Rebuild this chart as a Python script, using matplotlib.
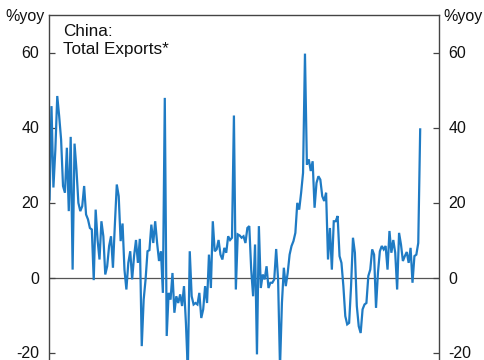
import matplotlib
matplotlib.use("Agg")
import matplotlib.pyplot as plt
import numpy as np

plt.rcParams['font.family'] = ['Liberation Sans', 'DejaVu Sans']

# Monthly % yoy values
seg1 = [20.8, 45.7, 24, 34, 48.4, 43, 36.8, 24.4, 22.6, 34.6, 17.7, 37.5, 2.1, 35.7, 28.8,
        19.9, 17.7, 19, 24.4, 16.8, 15.5, 13.2, 12.8, -0.7, 18.1, 10, 4.8, 15, 11, 0.8, 3,
        8.4, 11, 2.6, 14.1, 24.8, 21.7, 9.7, 14.4, 2.1, -3.2, 3.9, 7, -0.5, 5.7, 10, 3.9]
seg2 = [10.3, -18.3, -5.9, -0.5, 7, 7.3, 14.1, 9.2, 15, 9.2, 4.4, 7, -4.1, 47.9, -15.6,
        -4.1, -5.9, 1.2, -9.4, -5, -6.8, -4.5, -7.6, -2.3, -12.1, -25, 7, -5, -7.2, -6.8,
        -7.2, -4.1, -10.8, -8.5, -2.3, -6.8, 6.1, -2.8, 15, 7, 7.5, 10, 6.1, 4.8, 7.9, 6.6, 11]
seg3 = [10, 10.6, 43.2, -3.2, 11.5, 11.2, 10.6, 11, 9.2, 13.2, 13.7, 2.1, -5, 8.8, -20.5,
        13.7, -2.8, 0.8, -0.5, 3, -2.8, -1.4, -1.4, -0.5, 7.6, -0.5, -24, -6.8, 2.6, -2.3,
        1.2, 6.1, 8.4, 9.7, 11.9, 19.9, 18.1, 22.6, 27.9, 59.7, 30.1, 31.5, 28.4, 31, 18.6,
        25.2, 27, 26.1]
seg4 = [21.7, 20.4, 22.6, 4.8, 13.2, 2.1, 15, 15, 16.4, 5.7, 3.9, -2.3, -10.3, -12.5, -12.1,
        -2.3, 10.6, 6.6, -7.6, -13, -14.8, -8.5, -7.2, -6.8, 0.4, 2.1, 7.5, 6.1, -8.1, 1.2,
        7, 8.4, 7.5, 8.4, 2.1, 12.4, 6.6, 10, 6.6, -3.2, 11.9, 8.8, 4.4, 5.7, 6.8, 3.9, 7.9,
        -1.4, 5.7, 6.1, 9.2, 39.5]
exports_yoy = seg1 + seg2 + seg3 + seg4
months = np.arange(len(exports_yoy))

yticks = [-20, 0, 20, 40, 60]
ytick_labels = ['-20', '0', '20', '40', '60']
title_lines = "China:\nTotal Exports*"
unit_label = "%yoy"

W, H = 485, 360
fig = plt.figure(figsize=(W / 100, H / 100), dpi=100)
# axes: left spine x=49, right x=439, top y=15; y range 70 -> -30 (375 px)
ax = fig.add_axes([49 / W, 1 - 390 / H, 390 / W, 375 / H])

ax.plot(months, exports_yoy, color='#1f7bc4', lw=1.6, solid_joinstyle='miter')
ax.axhline(0, color='#555555', lw=0.9, zorder=0)

ax.set_ylim(-30, 70)
ax.set_xlim(-0.3, 202.8)
ax.set_yticks(yticks)
ax.set_yticklabels(ytick_labels)
ax.set_xticks([])

for s in ['left', 'right', 'top']:
    ax.spines[s].set_color('#444444')
    ax.spines[s].set_linewidth(1.0)
ax.spines['bottom'].set_visible(False)

ax.tick_params(axis='y', direction='in', length=4, width=0.9, color='#444444',
               labelsize=11.5, pad=7, left=True, right=True,
               labelleft=True, labelright=True, labelcolor='#111111')

ax.text(0.035, 0.975, title_lines, transform=ax.transAxes, ha='left', va='top',
        fontsize=12.3, color='#111111', linespacing=1.25)

fig.text(25 / W, 1 - 17 / H, unit_label, ha='center', va='center', fontsize=11.5, color='#111111')
fig.text(463 / W, 1 - 17 / H, unit_label, ha='center', va='center', fontsize=11.5, color='#111111')

fig.savefig('out.png', dpi=100)
